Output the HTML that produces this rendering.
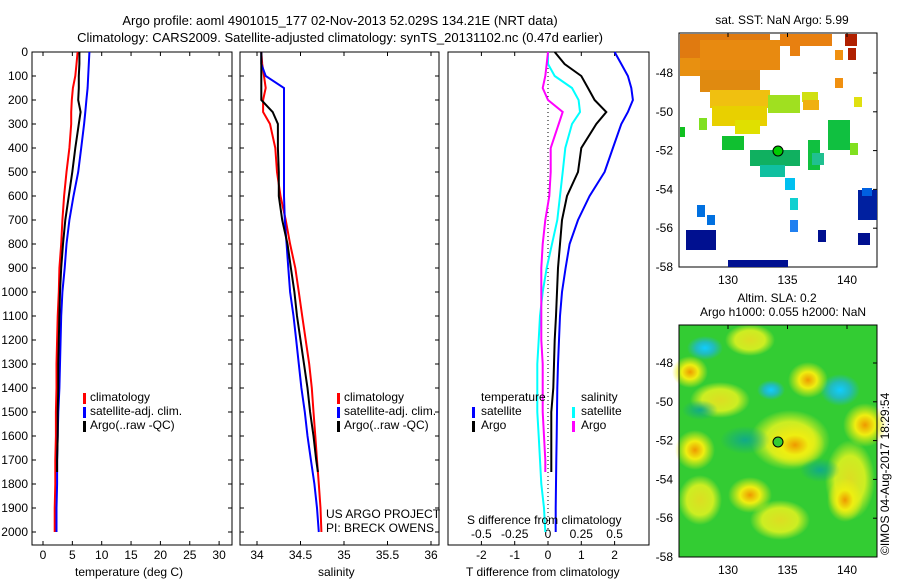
<!DOCTYPE html>
<html><head><meta charset="utf-8"><style>
body{margin:0;background:#fff;}
svg{display:block;font-family:"Liberation Sans",sans-serif;}
text{font-size:12px;fill:#000;}
</style></head><body>
<svg id="c" width="900" height="580" viewBox="0 0 900 580">
<text x="340" y="25" text-anchor="middle" style="font-size:13px">Argo profile: aoml 4901015_177 02-Nov-2013 52.029S 134.21E (NRT data)</text>
<text x="340" y="42" text-anchor="middle" style="font-size:13px">Climatology: CARS2009. Satellite-adjusted climatology: synTS_20131102.nc (0.47d earlier)</text>
<g id="g"></g>
</svg>
<script>
const depths=[0,50,100,150,200,250,300,400,500,600,700,800,900,1000,1100,1200,1300,1400,1500,1600,1700,1800,1900,2000];
const argoDepths=[0,50,100,150,200,250,300,400,500,600,700,800,900,1000,1100,1200,1300,1400,1500,1600,1700,1750];
const tempClim=[5.9,5.7,5.5,5.1,4.9,4.8,4.8,4.5,4.0,3.6,3.3,3.1,2.8,2.7,2.5,2.4,2.3,2.3,2.2,2.2,2.1,2.1,2.0,2.0];
const tempSat=[7.9,7.8,7.7,7.6,7.4,7.2,7.0,6.5,6.0,5.2,4.5,4.0,3.7,3.3,3.1,3.0,2.9,2.8,2.6,2.5,2.4,2.4,2.3,2.3];
const tempArgo=[6.2,6.2,6.1,6.1,6.0,6.4,6.1,5.5,5.0,4.4,3.8,3.4,3.1,2.9,2.8,2.7,2.6,2.6,2.5,2.5,2.4,2.4];
const salClim=[34.05,34.06,34.08,34.1,34.07,34.07,34.15,34.21,34.23,34.27,34.33,34.38,34.44,34.48,34.52,34.56,34.6,34.63,34.65,34.67,34.69,34.71,34.73,34.74];
const salSat=[34.05,34.05,34.1,34.31,34.31,34.31,34.31,34.31,34.31,34.31,34.32,34.34,34.36,34.38,34.42,34.45,34.48,34.51,34.55,34.58,34.62,34.66,34.69,34.71];
const salArgo=[34.05,34.05,34.05,34.05,34.05,34.18,34.24,34.24,34.25,34.25,34.29,34.35,34.39,34.43,34.46,34.5,34.54,34.58,34.61,34.65,34.68,34.7];
const dTSat=[2.0,2.2,2.4,2.5,2.55,2.4,2.2,1.95,1.7,1.25,0.9,0.65,0.53,0.42,0.36,0.33,0.3,0.28,0.27,0.26,0.25,0.24,0.23,0.23];
const dTArgo=[0.2,0.5,1.0,1.2,1.4,1.75,1.45,1.0,0.9,0.57,0.42,0.36,0.3,0.27,0.24,0.2,0.18,0.16,0.1,0.1,0.1,0.1];
const dSSat=[0,0,0.05,0.18,0.23,0.24,0.18,0.13,0.11,0.09,0.07,0.03,-0.01,-0.04,-0.06,-0.07,-0.08,-0.08,-0.08,-0.07,-0.06,-0.05,-0.03,-0.02];
const dSArgo=[0,-0.01,-0.02,-0.04,0,0.11,0.08,0.02,0.02,0.01,-0.02,-0.04,-0.05,-0.05,-0.05,-0.05,-0.04,-0.04,-0.04,-0.03,-0.02,-0.02];
const depthTicks=[0,100,200,300,400,500,600,700,800,900,1000,1100,1200,1300,1400,1500,1600,1700,1800,1900,2000];
const tempTicks=[0,5,10,15,20,25,30];
const salTicks=[34,34.5,35,35.5,36];
const dTTicks=[-2,-1,0,1,2];
const dSTicks=[-0.5,-0.25,0,0.25,0.5];
const latTicks=[-48,-50,-52,-54,-56,-58];
const lonTicks=[130,135,140];

const NS="http://www.w3.org/2000/svg";
const G=document.getElementById('g');
function el(t,a,p){const e=document.createElementNS(NS,t);for(const k in a)e.setAttribute(k,a[k]);(p||G).appendChild(e);return e;}
const yD=d=>52+0.24*d;
const xT=v=>43+5.87*v;
const xS=v=>257+87*(v-34);
const xdT=v=>548+33.3*v;
const xdS=v=>548+133.2*v;
const TOP=52,BOT=545;

function box(x0,x1,name){
  const r=el('rect',{x:x0,y:TOP,width:x1-x0,height:BOT-TOP,fill:'none',stroke:'#000'});
  
  
}
function line(xs,ds,fx,col,name,w){
  let p='';
  for(let i=0;i<xs.length;i++){p+=(i?'L':'M')+fx(xs[i]).toFixed(1)+','+yD(ds[i]).toFixed(1);}
  const e=el('path',{d:p,fill:'none',stroke:col,'stroke-width':w||2});
  
  
}
function xticks(ticks,fx,ylab,name,top){
  ticks.forEach(t=>{
    el('line',{x1:fx(t),x2:fx(t),y1:BOT,y2:BOT-4,stroke:'#000'});
    if(top!==false) el('line',{x1:fx(t),x2:fx(t),y1:TOP,y2:TOP+4,stroke:'#000'});
    const tx=el('text',{x:fx(t),y:ylab,'text-anchor':'middle'});
    tx.textContent=String(t);
    
    
  });
}
box(32,232,'temperature-panel');
depthTicks.forEach(d=>{
  el('line',{x1:32,x2:36,y1:yD(d),y2:yD(d),stroke:'#000'});
  el('line',{x1:228,x2:232,y1:yD(d),y2:yD(d),stroke:'#000'});
  el('line',{x1:240,x2:244,y1:yD(d),y2:yD(d),stroke:'#000'});
  el('line',{x1:435,x2:439,y1:yD(d),y2:yD(d),stroke:'#000'});
  const t=el('text',{x:28,y:yD(d)+4,'text-anchor':'end'});t.textContent=d;
  
  
});
xticks(tempTicks,xT,559,'temperature-tick-label');
line(tempClim,depths,xT,'#f00','temp-climatology-line');
line(tempSat,depths,xT,'#00f','temp-satellite-line');
line(tempArgo,argoDepths,xT,'#000','temp-argo-line');
box(240,439,'salinity-panel');
xticks(salTicks,xS,559,'salinity-tick-label');
line(salClim,depths,xS,'#f00','sal-climatology-line');
line(salSat,depths,xS,'#00f','sal-satellite-line');
line(salArgo,argoDepths,xS,'#000','sal-argo-line');
box(448,649,'difference-panel');
xticks(dTTicks,xdT,559,'dT-tick-label',false);
dSTicks.forEach(t=>{el('line',{x1:xdS(t),x2:xdS(t),y1:TOP,y2:TOP+4,stroke:'#000'});
  const tx=el('text',{x:xdS(t),y:538,'text-anchor':'middle'});tx.textContent=t;
  
  });
el('line',{x1:548,x2:548,y1:TOP,y2:530,stroke:'#000','stroke-dasharray':'1,3'});
line(dSSat,depths,xdS,'#0ff','dS-satellite-line');
line(dSArgo,argoDepths,xdS,'#f0f','dS-argo-line');
line(dTArgo,argoDepths,xdT,'#000','dT-argo-line');
line(dTSat,depths,xdT,'#00f','dT-satellite-line');
</script>
<div style="position:absolute;left:0;top:0;width:900px;height:580px;pointer-events:none">
<style>.t{position:absolute;font:12px "Liberation Sans",sans-serif;white-space:nowrap;}.k{position:absolute;width:3px;height:11px;}</style>
<div class="t" style="left:75px;top:565px">temperature (deg C)</div>
<div class="t" style="left:318px;top:565px">salinity</div>
<div class="t" style="left:466px;top:565px">T difference from climatology</div>
<div class="t" style="left:467px;top:513px">S difference from climatology</div>
<div>
<div class="k" style="left:83px;top:393px;background:#f00"></div><div class="t" style="left:90px;top:390px">climatology</div>
<div class="k" style="left:83px;top:407px;background:#00f"></div><div class="t" style="left:90px;top:404px">satellite-adj. clim.</div>
<div class="k" style="left:83px;top:421px;background:#000"></div><div class="t" style="left:90px;top:418px">Argo(..raw -QC)</div></div>
<div>
<div class="k" style="left:337px;top:393px;background:#f00"></div><div class="t" style="left:344px;top:390px">climatology</div>
<div class="k" style="left:337px;top:407px;background:#00f"></div><div class="t" style="left:344px;top:404px">satellite-adj. clim.</div>
<div class="k" style="left:337px;top:421px;background:#000"></div><div class="t" style="left:344px;top:418px">Argo(..raw -QC)</div></div>
<div class="t" style="left:326px;top:507px">US ARGO PROJECT</div>
<div class="t" style="left:326px;top:521px">PI: BRECK OWENS</div>
<div>
<div class="t" style="left:481px;top:390px">temperature</div><div class="t" style="left:581px;top:390px">salinity</div>
<div class="k" style="left:472px;top:407px;background:#00f"></div><div class="t" style="left:481px;top:404px">satellite</div>
<div class="k" style="left:472px;top:421px;background:#000"></div><div class="t" style="left:481px;top:418px">Argo</div>
<div class="k" style="left:572px;top:407px;background:#0ff"></div><div class="t" style="left:581px;top:404px">satellite</div>
<div class="k" style="left:572px;top:421px;background:#f0f"></div><div class="t" style="left:581px;top:418px">Argo</div></div>
</div>
<svg style="position:absolute;left:0;top:0" width="900" height="580">
<defs>
<radialGradient id="rb"><stop offset="0" stop-color="#1cf"/><stop offset=".5" stop-color="#2bb"/><stop offset="1" stop-color="#2bb" stop-opacity="0"/></radialGradient>
<radialGradient id="ry"><stop offset="0" stop-color="#e90"/><stop offset=".45" stop-color="#ee1"/><stop offset="1" stop-color="#ee1" stop-opacity="0"/></radialGradient>
<radialGradient id="ryl"><stop offset="0" stop-color="#dd2"/><stop offset=".6" stop-color="#ce2"/><stop offset="1" stop-color="#ce2" stop-opacity="0"/></radialGradient>
<radialGradient id="rg"><stop offset="0" stop-color="#1a8"/><stop offset="1" stop-color="#1a8" stop-opacity="0"/></radialGradient>
</defs>
<g id="m1">
<rect x="679" y="33" width="198" height="234" fill="#fff" stroke="#000"/>
<rect x="680" y="34" width="90" height="24" fill="#e07a10"/>
<rect x="700" y="40" width="80" height="30" fill="#e88a10"/>
<rect x="680" y="58" width="20" height="18" fill="#e89010"/>
<rect x="700" y="70" width="60" height="22" fill="#e08a10"/>
<rect x="780" y="34" width="52" height="12" fill="#e88010"/>
<rect x="790" y="46" width="10" height="10" fill="#e88010"/>
<rect x="835" y="50" width="8" height="10" fill="#f09010"/>
<rect x="835" y="78" width="8" height="10" fill="#f09010"/>
<rect x="845" y="34" width="12" height="12" fill="#b02000"/>
<rect x="848" y="48" width="8" height="12" fill="#b02000"/>
<rect x="710" y="90" width="60" height="18" fill="#f0c010"/>
<rect x="712" y="106" width="55" height="20" fill="#e8d000"/>
<rect x="735" y="120" width="25" height="14" fill="#e0e000"/>
<rect x="768" y="95" width="32" height="18" fill="#a0e020"/>
<rect x="802" y="92" width="16" height="10" fill="#d0e010"/>
<rect x="803" y="100" width="16" height="10" fill="#f0b010"/>
<rect x="854" y="97" width="8" height="10" fill="#e0e010"/>
<rect x="680" y="127" width="5" height="10" fill="#10c020"/>
<rect x="699" y="118" width="8" height="12" fill="#80e020"/>
<rect x="722" y="136" width="22" height="14" fill="#10c030"/>
<rect x="750" y="150" width="50" height="16" fill="#10b060"/>
<rect x="760" y="165" width="25" height="12" fill="#10c0a0"/>
<rect x="808" y="140" width="12" height="30" fill="#10c040"/>
<rect x="828" y="120" width="22" height="30" fill="#10c040"/>
<rect x="850" y="143" width="8" height="12" fill="#80e020"/>
<rect x="812" y="153" width="12" height="12" fill="#20c090"/>
<rect x="785" y="178" width="10" height="12" fill="#00c0f0"/>
<rect x="790" y="198" width="8" height="12" fill="#10d0d0"/>
<rect x="858" y="190" width="19" height="30" fill="#0020a0"/>
<rect x="862" y="188" width="10" height="8" fill="#0060e0"/>
<rect x="686" y="230" width="30" height="20" fill="#001090"/>
<rect x="697" y="205" width="8" height="12" fill="#0070e0"/>
<rect x="707" y="215" width="8" height="10" fill="#0070e0"/>
<rect x="790" y="220" width="8" height="12" fill="#2080f0"/>
<rect x="818" y="230" width="8" height="12" fill="#001090"/>
<rect x="858" y="233" width="12" height="12" fill="#001090"/>
<rect x="728" y="260" width="60" height="7" fill="#001090"/>
<circle cx="778" cy="151" r="5" fill="#0c0" stroke="#000"/>
</g>
<g id="m2">
<rect x="679" y="325" width="198" height="232" fill="#3c3"/>
<ellipse cx="750" cy="340" rx="25" ry="16" fill="url(#ryl)"/>
<ellipse cx="720" cy="400" rx="30" ry="18" fill="url(#ryl)"/>
<ellipse cx="850" cy="480" rx="25" ry="40" fill="url(#ryl)"/>
<ellipse cx="700" cy="500" rx="22" ry="25" fill="url(#ryl)"/>
<ellipse cx="780" cy="520" rx="30" ry="20" fill="url(#ryl)"/>
<ellipse cx="790" cy="440" rx="40" ry="30" fill="url(#ryl)"/>
<ellipse cx="705" cy="348" rx="18" ry="12" fill="url(#rb)"/>
<ellipse cx="771" cy="390" rx="14" ry="10" fill="url(#rb)"/>
<ellipse cx="840" cy="390" rx="20" ry="16" fill="url(#rb)"/>
<ellipse cx="690" cy="372" rx="18" ry="16" fill="url(#ry)"/>
<ellipse cx="808" cy="380" rx="20" ry="18" fill="url(#ry)"/>
<ellipse cx="865" cy="425" rx="22" ry="22" fill="url(#ry)"/>
<ellipse cx="695" cy="450" rx="20" ry="20" fill="url(#ry)"/>
<ellipse cx="795" cy="445" rx="30" ry="22" fill="url(#ry)"/>
<ellipse cx="750" cy="495" rx="22" ry="18" fill="url(#ry)"/>
<ellipse cx="845" cy="500" rx="18" ry="22" fill="url(#ry)"/>
<ellipse cx="745" cy="440" rx="25" ry="14" fill="url(#rg)"/>
<ellipse cx="820" cy="470" rx="20" ry="12" fill="url(#rg)"/>
<ellipse cx="700" cy="410" rx="18" ry="10" fill="url(#rg)"/>
<rect x="679" y="325" width="198" height="232" fill="none" stroke="#000"/>
<circle cx="778" cy="442" r="5" fill="#3c3" stroke="#000"/>
</g>
<g font-family="Liberation Sans" font-size="12">
<text x="782" y="24" text-anchor="middle">sat. SST: NaN Argo: 5.99</text>
<text x="777" y="302" text-anchor="middle">Altim. SLA: 0.2</text>
<text x="783" y="316" text-anchor="middle">Argo h1000: 0.055 h2000: NaN</text>
<text transform="translate(889,555) rotate(-90)">©IMOS 04-Aug-2017 18:29:54</text>
</g>
<g id="mt" font-family="Liberation Sans" font-size="12"></g>
</svg>
<script>
const mt=document.getElementById('mt');
[[73,33,267],[363,325,557]].forEach(([y48,top,bot])=>{
  latTicks.forEach(l=>{const y=y48+19.4*(-48-l);
    const t=document.createElementNS(NS,'text');t.setAttribute('x',673);t.setAttribute('y',y+4);t.setAttribute('text-anchor','end');t.textContent=l;
    
    
    mt.appendChild(t);
    const k=document.createElementNS(NS,'line');k.setAttribute('x1',873);k.setAttribute('x2',877);k.setAttribute('y1',y);k.setAttribute('y2',y);k.setAttribute('stroke','#000');mt.appendChild(k);});
  lonTicks.forEach(l=>{const x=728+11.9*(l-130);
    const t=document.createElementNS(NS,'text');t.setAttribute('x',x);t.setAttribute('y',bot+17);t.setAttribute('text-anchor','middle');t.textContent=l;
    
    
    mt.appendChild(t);
    const k=document.createElementNS(NS,'line');k.setAttribute('x1',x);k.setAttribute('x2',x);k.setAttribute('y1',top);k.setAttribute('y2',top+4);k.setAttribute('stroke','#000');mt.appendChild(k);});
});
</script>
</body></html>
